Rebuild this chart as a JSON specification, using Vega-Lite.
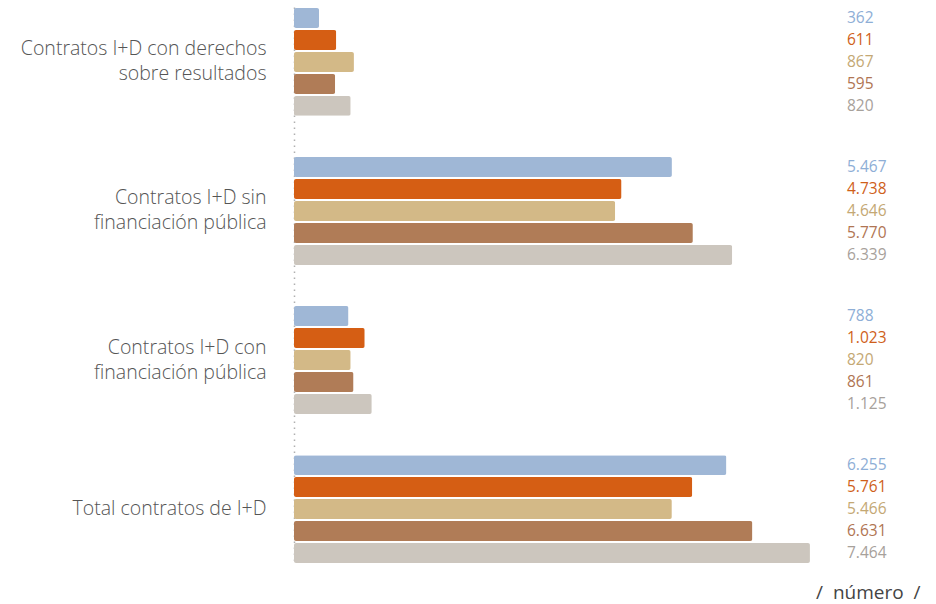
{
  "$schema": "https://vega.github.io/schema/vega-lite/v6.json",
  "width": 553,
  "height": 557,
  "autosize": {"type": "none"},
  "padding": {"left": 294, "top": 7, "right": 89, "bottom": 40},
  "background": "white",
  "config": {
    "view": {"stroke": null},
    "font": "Open Sans",
    "locale": {"number": {"decimal": ",", "thousands": ".", "grouping": [3], "currency": ["", " €"]}}
  },
  "data": {
    "values": [
      {"cat": "Contratos I+D con derechos|sobre resultados", "serie": "S1", "value": 362},
      {"cat": "Contratos I+D con derechos|sobre resultados", "serie": "S2", "value": 611},
      {"cat": "Contratos I+D con derechos|sobre resultados", "serie": "S3", "value": 867},
      {"cat": "Contratos I+D con derechos|sobre resultados", "serie": "S4", "value": 595},
      {"cat": "Contratos I+D con derechos|sobre resultados", "serie": "S5", "value": 820},
      {"cat": "Contratos I+D sin|financiación pública", "serie": "S1", "value": 5467},
      {"cat": "Contratos I+D sin|financiación pública", "serie": "S2", "value": 4738},
      {"cat": "Contratos I+D sin|financiación pública", "serie": "S3", "value": 4646},
      {"cat": "Contratos I+D sin|financiación pública", "serie": "S4", "value": 5770},
      {"cat": "Contratos I+D sin|financiación pública", "serie": "S5", "value": 6339},
      {"cat": "Contratos I+D con|financiación pública", "serie": "S1", "value": 788},
      {"cat": "Contratos I+D con|financiación pública", "serie": "S2", "value": 1023},
      {"cat": "Contratos I+D con|financiación pública", "serie": "S3", "value": 820},
      {"cat": "Contratos I+D con|financiación pública", "serie": "S4", "value": 861},
      {"cat": "Contratos I+D con|financiación pública", "serie": "S5", "value": 1125},
      {"cat": "Total contratos de I+D", "serie": "S1", "value": 6255},
      {"cat": "Total contratos de I+D", "serie": "S2", "value": 5761},
      {"cat": "Total contratos de I+D", "serie": "S3", "value": 5466},
      {"cat": "Total contratos de I+D", "serie": "S4", "value": 6631},
      {"cat": "Total contratos de I+D", "serie": "S5", "value": 7464}
    ]
  },
  "encoding": {
    "y": {
      "field": "cat",
      "type": "nominal",
      "sort": null,
      "scale": {"paddingInner": 0.262, "paddingOuter": 0},
      "axis": {
        "title": null,
        "labelExpr": "split(datum.label, '|')",
        "labelFontSize": 19.5,
        "labelFontWeight": 300,
        "labelColor": "#555555",
        "labelLineHeight": 25,
        "labelPadding": 28,
        "labelLimit": 400,
        "labelOffset": {"condition": {"test": "indexof(datum.label, '|') >= 0", "value": -12.5}, "value": 0},
        "ticks": false,
        "domain": true,
        "domainColor": "#b0b0b0",
        "domainDash": [1.5, 4.5],
        "domainWidth": 1.5
      }
    },
    "yOffset": {
      "field": "serie",
      "type": "nominal",
      "sort": null,
      "scale": {"paddingInner": 0.1, "paddingOuter": 0.05}
    }
  },
  "layer": [
    {
      "mark": {"type": "bar", "cornerRadius": 2},
      "encoding": {
        "x": {
          "field": "value",
          "type": "quantitative",
          "scale": {"domain": [0, 8000], "nice": false},
          "axis": {
            "labels": false,
            "ticks": false,
            "domain": false,
            "grid": false,
            "title": "/\u00a0\u00a0número\u00a0\u00a0/",
            "titleX": 626,
            "titleY": 28,
            "titleAlign": "right",
            "titleBaseline": "middle",
            "titleFontSize": 19,
            "titleFontWeight": 400,
            "titleColor": "#444444"
          }
        },
        "color": {
          "field": "serie",
          "type": "nominal",
          "sort": null,
          "scale": {"domain": ["S1", "S2", "S3", "S4", "S5"], "range": ["#9fb7d6", "#d55e14", "#d3b987", "#b07c57", "#ccc6be"]},
          "legend": null
        }
      }
    },
    {
      "transform": [{"filter": "datum.serie == 'S1' || datum.serie == 'S3' || datum.serie == 'S5'"}],
      "mark": {"type": "text", "align": "left", "baseline": "middle", "fontSize": 15.5, "fontWeight": 400},
      "encoding": {
        "x": {"datum": 8000, "type": "quantitative"},
        "text": {"field": "value", "type": "quantitative", "format": ",d"},
        "color": {
          "field": "serie",
          "type": "nominal",
          "sort": null,
          "scale": {"domain": ["S1", "S2", "S3", "S4", "S5"], "range": ["#8eaed6", "#cf5f1a", "#c4a874", "#b07553", "#a7a19b"]},
          "legend": null
        }
      }
    },
    {
      "transform": [{"filter": "datum.serie == 'S2' || datum.serie == 'S4'"}],
      "mark": {"type": "text", "align": "left", "baseline": "middle", "fontSize": 15.5, "fontWeight": 500},
      "encoding": {
        "x": {"datum": 8000, "type": "quantitative"},
        "text": {"field": "value", "type": "quantitative", "format": ",d"},
        "color": {
          "field": "serie",
          "type": "nominal",
          "sort": null,
          "scale": {"domain": ["S1", "S2", "S3", "S4", "S5"], "range": ["#8eaed6", "#cf5f1a", "#c4a874", "#b07553", "#a7a19b"]},
          "legend": null
        }
      }
    }
  ],
  "resolve": {"scale": {"color": "independent"}}
}
